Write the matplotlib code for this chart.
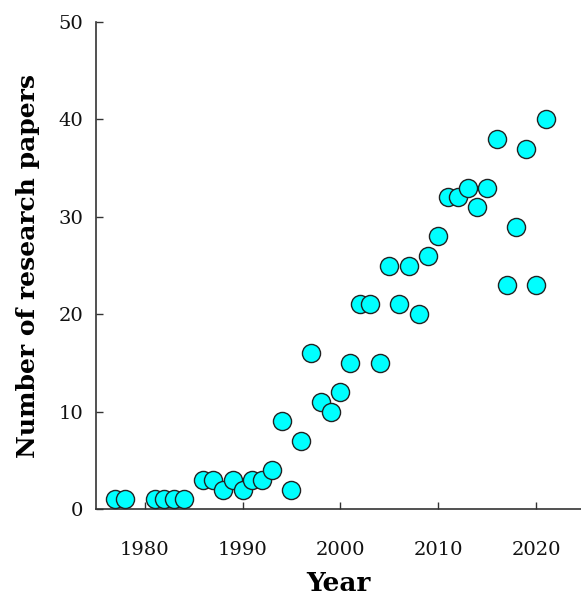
import matplotlib
matplotlib.use("Agg")
import matplotlib.pyplot as plt

# papers per year
years = [1977, 1978, 1981, 1982, 1983, 1984, 1986, 1987, 1988, 1989,
         1990, 1991, 1992, 1993, 1994, 1995, 1996, 1997, 1998, 1999,
         2000, 2001, 2002, 2003, 2004, 2005, 2006, 2007, 2008, 2009,
         2010, 2011, 2012, 2013, 2014, 2015, 2016, 2017, 2018, 2019,
         2020, 2021]
papers = [1, 1, 1, 1, 1, 1, 3, 3, 2, 3,
          2, 3, 3, 4, 9, 2, 7, 16, 11, 10,
          12, 15, 21, 21, 15, 25, 21, 25, 20, 26,
          28, 32, 32, 33, 31, 33, 38, 23, 29, 37,
          23, 40]

plt.rcParams['font.family'] = ['DejaVu Serif']

fig = plt.figure(figsize=(5.81, 5.96), dpi=100)
ax = fig.add_axes([0.165, 0.146, 0.835, 0.817])

ax.scatter(years, papers, s=170, c='#00ffff', edgecolors='#222222',
           linewidths=1.0, zorder=3, clip_on=False)

ax.set_xlim(1975, 2024.6)
ax.set_ylim(0, 50)
ax.set_xticks([1980, 1990, 2000, 2010, 2020])
ax.set_yticks([0, 10, 20, 30, 40, 50])
ax.tick_params(direction='in', length=5, width=1, labelsize=14, colors='#333333',
               labelcolor='#111111')
ax.tick_params(axis='x', pad=23)
ax.tick_params(axis='y', pad=9)

for side in ['top', 'right']:
    ax.spines[side].set_visible(False)
for side in ['left', 'bottom']:
    ax.spines[side].set_color('#333333')
    ax.spines[side].set_linewidth(1.2)

ax.set_xlabel('Year', fontsize=19, fontweight='bold', labelpad=9)
ax.set_ylabel('Number of research papers', fontsize=18, fontweight='bold', labelpad=13)

fig.savefig('out.png', dpi=100)
